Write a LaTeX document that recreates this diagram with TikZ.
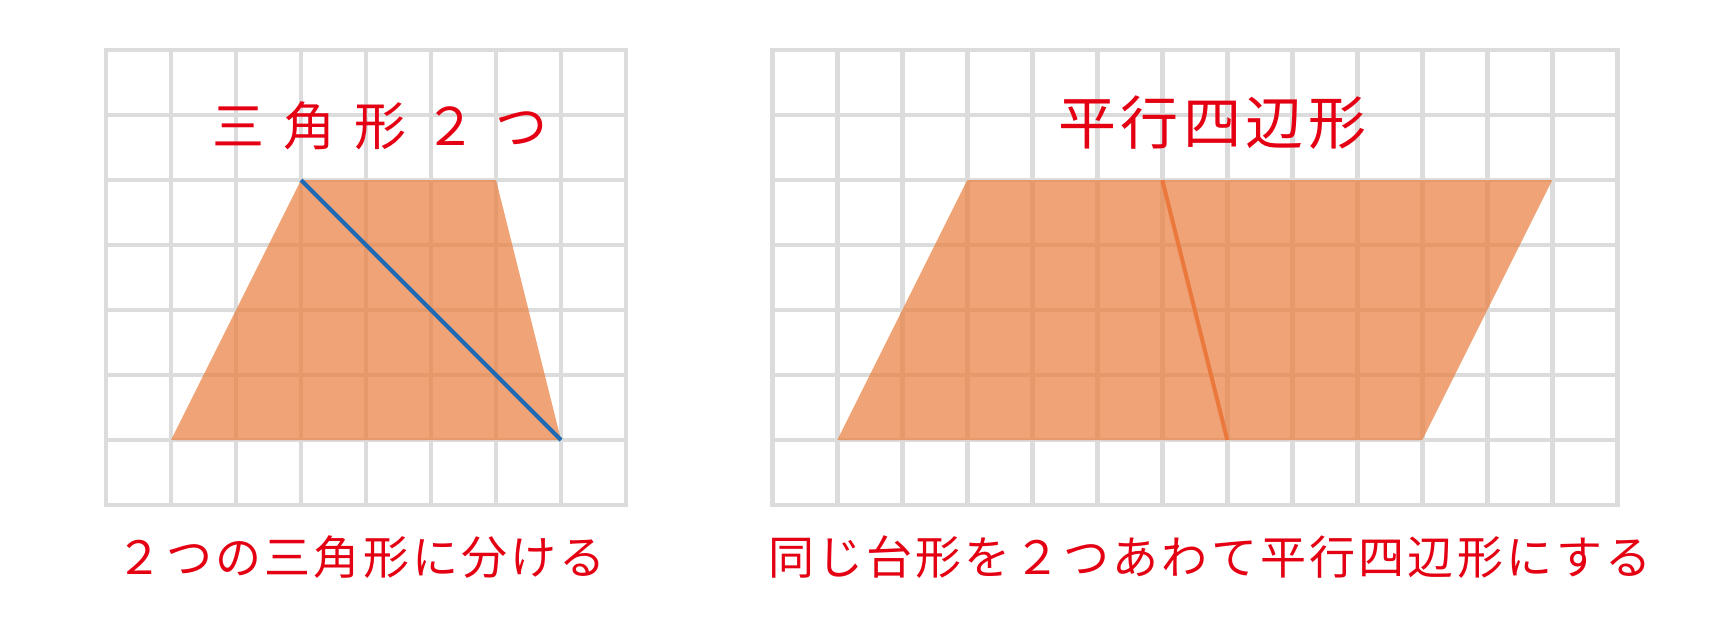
\documentclass[tikz,border=0pt]{standalone}
\usepackage{fontspec}
\newfontfamily\jp{Noto Sans CJK JP}
\newfontfamily\jptitle[LetterSpace=36]{Noto Sans CJK JP}
\newfontfamily\jptitleb[LetterSpace=8]{Noto Sans CJK JP}
\newfontfamily\jpcap[LetterSpace=7]{Noto Sans CJK JP}
\definecolor{gridgray}{RGB}{220,220,220}
\definecolor{shapefill}{RGB}{235,125,60}
\definecolor{diagblue}{RGB}{30,105,180}
\definecolor{diagorange}{RGB}{235,120,60}
\definecolor{textred}{RGB}{228,0,18}
\begin{document}
\begin{tikzpicture}[x=65pt,y=-65pt,
  gridline/.style={draw=gridgray,line width=4.5pt,line cap=rect},
  shapearea/.style={fill=shapefill,fill opacity=0.7},
  titletext/.style={text=textred,inner sep=0pt},
  captext/.style={text=textred,inner sep=0pt,font=\jpcap\fontsize{46}{50}\selectfont}]
\useasboundingbox (-1.6308,-0.7692) rectangle (24.7538,9.0615);
\fill[white] (-1.6308,-0.7692) rectangle (24.7538,9.0615);
% left panel
\foreach \i in {0,...,8} {\draw[gridline] (\i,0) -- (\i,7);}
\foreach \j in {0,...,7} {\draw[gridline] (0,\j) -- (8,\j);}
\fill[shapearea] (1,6) -- (7,6) -- (6,2) -- (3,2) -- cycle;
\coordinate (ltop) at (3,2);
\coordinate (lbot) at (7,6);
\draw[diagblue,line width=4pt] (ltop) -- (lbot);
\node[titletext,font=\jptitle\fontsize{52}{56}\selectfont] (ltitle) at (4.22,1.17) {三角形２つ};
\node[captext] (lcap) at (3.93,7.8) {２つの三角形に分ける};
% right panel
\begin{scope}[xshift=10.25*65pt]
\foreach \i in {0,...,13} {\draw[gridline] (\i,0) -- (\i,7);}
\foreach \j in {0,...,7} {\draw[gridline] (0,\j) -- (13,\j);}
\fill[shapearea] (1,6) -- (10,6) -- (12,2) -- (3,2) -- cycle;
\coordinate (rtop) at (6,2);
\coordinate (rbot) at (7,6);
\draw[diagorange,line width=4pt] (rtop) -- (rbot);
\node[titletext,font=\jptitleb\fontsize{58}{62}\selectfont] (rtitle) at (6.77,1.12) {平行四辺形};
\node[captext] (rcap) at (6.73,7.8) {同じ台形を２つあわて平行四辺形にする};
\end{scope}
\end{tikzpicture}
\end{document}
